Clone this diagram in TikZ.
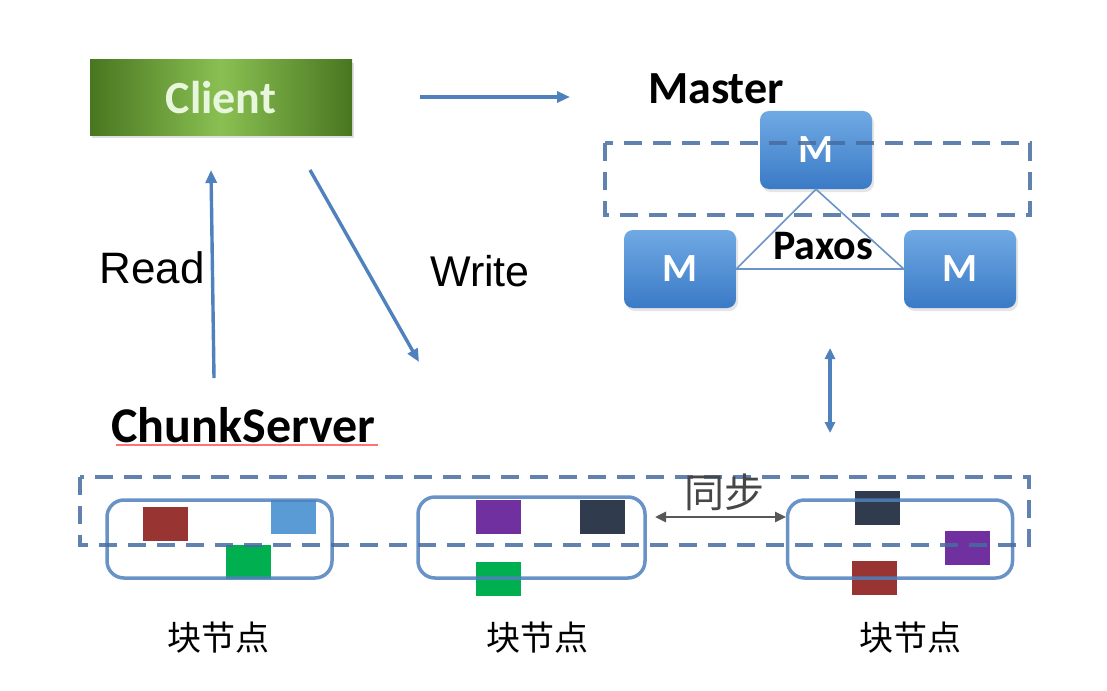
\documentclass[tikz,border=0pt]{standalone}
\usepackage{fontspec}
\setmainfont{Carlito}
\newfontfamily\arialfont{Liberation Sans}
\newfontfamily\cjk{Noto Sans CJK SC}
\usepackage{tikz}
\usetikzlibrary{arrows.meta,shadows}

\definecolor{lineblue}{RGB}{79,129,189}
\definecolor{dashblue}{RGB}{70,108,160}
\definecolor{mtop}{RGB}{112,170,228}
\definecolor{mbot}{RGB}{58,122,198}
\definecolor{cdark}{RGB}{72,118,32}
\definecolor{clight}{RGB}{138,192,82}
\definecolor{blkred}{RGB}{152,52,50}
\definecolor{blkblue}{RGB}{91,155,213}
\definecolor{blkgreen}{RGB}{0,176,80}
\definecolor{blkpurple}{RGB}{112,48,160}
\definecolor{blknavy}{RGB}{48,60,78}

\begin{document}
\begin{tikzpicture}[x=1pt,y=-1pt,
  mbox/.style={rounded corners=9pt,top color=mtop,bottom color=mbot,
    minimum width=112pt,minimum height=78pt,text=white,
    font=\bfseries\fontsize{40}{42}\selectfont,
    drop shadow={opacity=0.2,shadow xshift=2pt,shadow yshift=-3pt}},
  chunkbox/.style={draw=lineblue,line width=3.5pt,rounded corners=17pt,
    minimum width=225pt,minimum height=78pt,draw opacity=0.85},
  blk/.style={minimum width=45pt,minimum height=34pt,inner sep=0pt},
  grpbox/.style={draw=dashblue,line width=4pt,dash pattern=on 18pt off 11pt,
    draw opacity=0.85},
  arr/.style={draw=lineblue,line width=3.4pt,-{Triangle[length=13pt,width=11pt]}},
  bigtxt/.style={font=\bfseries\fontsize{46}{50}\selectfont}]
\fill[white] (0,0) rectangle (1107,690);
\useasboundingbox (0,0) rectangle (1107,690);

% client
\node[left color=cdark,right color=cdark,middle color=clight,
  minimum width=262pt,minimum height=75pt,text={rgb,255:red,232;green,246;blue,222},
  font=\bfseries\fontsize{46}{50}\selectfont,
  drop shadow={opacity=0.25,shadow xshift=2pt,shadow yshift=-3pt}]
  (client) at (221,97.5) {Client};

% master group
\node[bigtxt] (master) at (716,89) {Master};
\node[mbox] (m1) at (816,150) {M};
\node[mbox] (m2) at (680,269) {M};
\node[mbox] (m3) at (960,269) {M};
\draw[lineblue!85,line width=1.6pt]
(m1.south) -- (m2.east) -- (m3.west) -- cycle;
\node[font=\bfseries\fontsize{42}{44}\selectfont] (paxos) at (823,246) {Paxos};
\draw[grpbox] (605,143) rectangle (1030,215);

% read / write
\coordinate (rd-s) at (214,378);
\coordinate (rd-e) at (211,170);
\coordinate (wr-s) at (310,170);
\coordinate (wr-e) at (419,362);
\coordinate (cm-s) at (420,97);
\coordinate (cm-e) at (570,97);
\draw[arr] (rd-s) -- (rd-e);
\draw[arr] (wr-s) -- (wr-e);
\draw[arr] (cm-s) -- (cm-e);
\node[font=\arialfont\fontsize{44}{46}\selectfont] (read) at (152,268) {Read};
\node[font=\arialfont\fontsize{43}{46}\selectfont] (write) at (480,271) {Write};

% master <-> chunkservers
\coordinate (ms-a) at (830,348);
\coordinate (ms-b) at (830,433);
\draw[arr,{Triangle[length=11pt,width=10pt]}-{Triangle[length=11pt,width=10pt]}] (ms-a) -- (ms-b);

% chunkservers
\node[font=\bfseries\fontsize{50}{52}\selectfont,anchor=west] (cserver) at (108,425) {ChunkServer};
\draw[red!55,line width=1.2pt] (116,445) -- (378,445);

\node[blk,fill=blkred] (b11) at (165,524) {};
\node[blk,fill=blkblue] (b12) at (293,516.5) {};
\node[blk,fill=blkgreen] (b13) at (248,561.5) {};
\node[blk,fill=blkpurple] (b21) at (498.5,516.5) {};
\node[blk,fill=blknavy] (b22) at (602.5,516.5) {};
\node[blk,fill=blkgreen] (b23) at (498.5,579) {};
\node[blk,fill=blknavy] (b31) at (877.5,507.5) {};
\node[blk,fill=blkpurple] (b32) at (967.5,547.5) {};
\node[blk,fill=blkred] (b33) at (874.5,577.5) {};

\node[chunkbox] (cs1) at (219.5,539) {};
\node[chunkbox,minimum width=227pt,minimum height=81pt] (cs2) at (531.5,537.5) {};
\node[chunkbox] (cs3) at (900,539) {};
\draw[grpbox] (80,477) rectangle (1029,545);

\coordinate (sy-a) at (655,517);
\coordinate (sy-b) at (786,517);
\draw[draw={rgb,255:red,88;green,88;blue,88},line width=2.5pt,
  {Triangle[length=11pt,width=10pt]}-{Triangle[length=11pt,width=10pt]}] (sy-a) -- (sy-b);
\node[font=\cjk\fontsize{40}{42}\selectfont,text={rgb,255:red,70;green,70;blue,70}] (sync) at (724,492) {同步};

\node[font=\cjk\fontsize{34}{36}\selectfont] (lbl1) at (218,638) {块节点};
\node[font=\cjk\fontsize{34}{36}\selectfont] (lbl2) at (537,638) {块节点};
\node[font=\cjk\fontsize{34}{36}\selectfont] (lbl3) at (910,638) {块节点};
\end{tikzpicture}
\end{document}
